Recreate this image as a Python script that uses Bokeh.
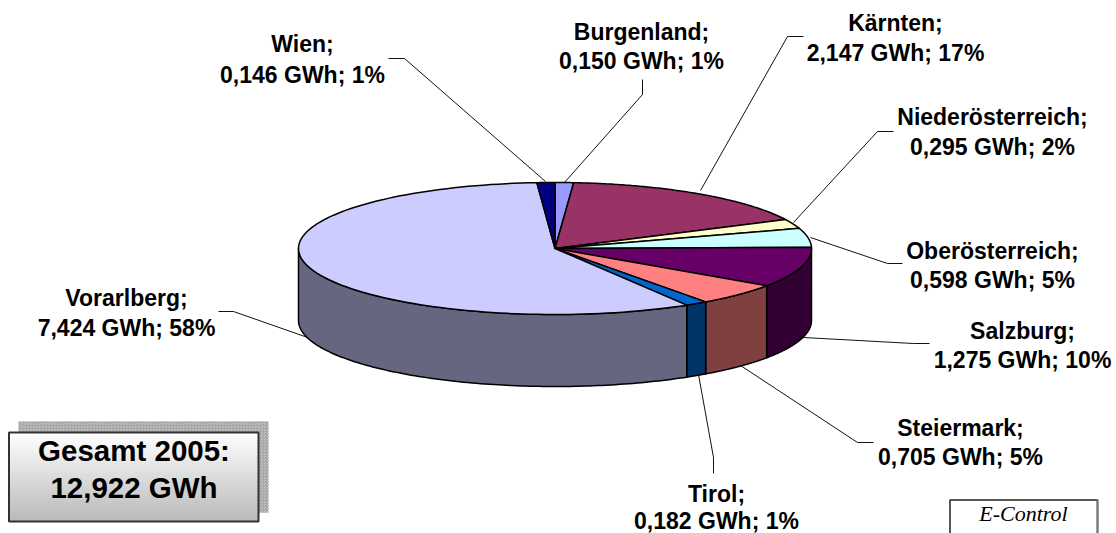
import numpy as np
from bokeh.plotting import figure
from bokeh.models import Range1d
from bokeh.core.properties import value
from bokeh.embed import file_html
from bokeh.resources import INLINE

# ---- data
regions = ["Burgenland", "Kärnten", "Niederösterreich", "Oberösterreich", "Salzburg",
           "Steiermark", "Tirol", "Vorarlberg", "Wien"]
gwh = [0.150, 2.147, 0.295, 0.598, 1.275, 0.705, 0.182, 7.424, 0.146]
percent = [1, 17, 2, 5, 10, 5, 1, 58, 1]
total_title = "Gesamt 2005:"
total_value = "12,922 GWh"
source_note = "E-Control"

# ---- styles
top_colors = ["#9999FF", "#993366", "#FFFFCC", "#CCFFFF", "#660066", "#FF8080", "#0066CC", "#CCCCFF", "#000080"]
side_colors = ["#4C4C80", "#4C1933", "#808066", "#668080", "#330033", "#804040", "#003366", "#666680", "#000040"]

# ---- layout (window pixels)
CX, CY, RX, RY, DEPTH = 554.5, 248.0, 256.5, 66.0, 72.0
label_pos = [  # centre x, first baseline, second baseline
    (641, 39, 68), (895, 30, 60), (992, 124, 154), (992, 258, 287), (1022, 338, 367),
    (960, 435, 464), (716, 501, 528), (126, 305, 335), (302, 51, 82)]
leaders = [
    ([642, 642, 564], [79, 94, 182]),
    ([803, 787, 700], [36, 36, 190]),
    ([893, 877, 793], [131, 131, 222]),
    ([902, 887, 810], [263, 263, 237]),
    ([929, 913, 803], [343, 343, 337]),
    ([873, 857, 740], [442, 442, 365]),
    ([713, 713, 698], [473, 457, 374]),
    ([218, 233, 310], [311, 311, 338]),
    ([388, 404, 545], [58, 58, 181]),
]

p = figure(width=1116, height=533, x_range=Range1d(0, 1116), y_range=Range1d(533, 0),
           output_backend="svg", toolbar_location=None, min_border=0)
p.axis.visible = False
p.grid.visible = False
p.outline_line_color = None
p.background_fill_color = "white"
p.border_fill_color = "white"

for xs, ys in leaders:
    p.line(xs, ys, line_color="#111111", line_width=1)


def rim(a0, a1, n=120):
    t = np.radians(np.linspace(a0, a1, n))
    return CX + RX * np.sin(t), CY - RY * np.cos(t)


edges = np.concatenate([[0], np.cumsum(gwh)]) / sum(gwh) * 360.0

# side walls of the part of the disc that faces the viewer
for i in range(len(gwh)):
    a0, a1 = max(edges[i], 90), min(edges[i + 1], 270)
    if a1 <= a0:
        continue
    x, y = rim(a0, a1)
    p.patch(np.concatenate([x, x[::-1]]), np.concatenate([y, y[::-1] + DEPTH]),
            fill_color=side_colors[i], line_color="black", line_width=1.5, line_join="round")

# top faces
for i in range(len(gwh)):
    x, y = rim(edges[i], edges[i + 1])
    p.patch(np.concatenate([[CX], x]), np.concatenate([[CY], y]),
            fill_color=top_colors[i], line_color="black", line_width=1.5, line_join="round")

# labels
for name, v, pc, (cx, b1, b2) in zip(regions, gwh, percent, label_pos):
    second = f"{v:.3f}".replace(".", ",") + f" GWh; {pc}%"
    p.text([cx, cx], [b1, b2], text=[name + ";", second], text_align="center", y_offset=-8,
           text_baseline="alphabetic", text_font=value("Liberation Sans"),
           text_font_style="bold", text_font_size="23px", text_color="black")

# total box: dotted shadow, grey gradient, border
p.quad(left=[18], right=[268], top=[421], bottom=[512], fill_color="#c8c8c8", line_color=None,
       hatch_pattern="criss_cross", hatch_scale=3, hatch_color="#a8a8a8", hatch_weight=1)
rows = np.arange(432, 521)
shade = 255 - (rows - 432) / 89 * 70
p.quad(left=8, right=258, top=rows, bottom=rows + 1.5,
       fill_color=[f"#{int(s):02x}{int(s):02x}{int(s):02x}" for s in shade], line_color=None)
p.quad(left=[8.5], right=[258], top=[432], bottom=[521], fill_color=None, line_color="#333333", line_width=2)
p.text([133.5, 133.5], [460, 497], text=[total_title, total_value], text_align="center", y_offset=-10,
       text_baseline="alphabetic", text_font=value("Liberation Sans"), text_font_style="bold",
       text_font_size="29.5px", text_color="black")

# source box, cut by the bottom of the picture
p.quad(left=[949.5], right=[1097], top=[499.5], bottom=[560], fill_color="white", line_color="#222222", line_width=1.5)
p.line([1097, 1097], [499, 533], line_color="#777777", line_width=2)
p.text([1023], [521], text=[source_note], text_align="center", text_baseline="alphabetic", y_offset=-8,
       text_font=value("Liberation Serif"), text_font_style="italic", text_font_size="22px", text_color="black")

open("out.html", "w").write(file_html(p, INLINE))
